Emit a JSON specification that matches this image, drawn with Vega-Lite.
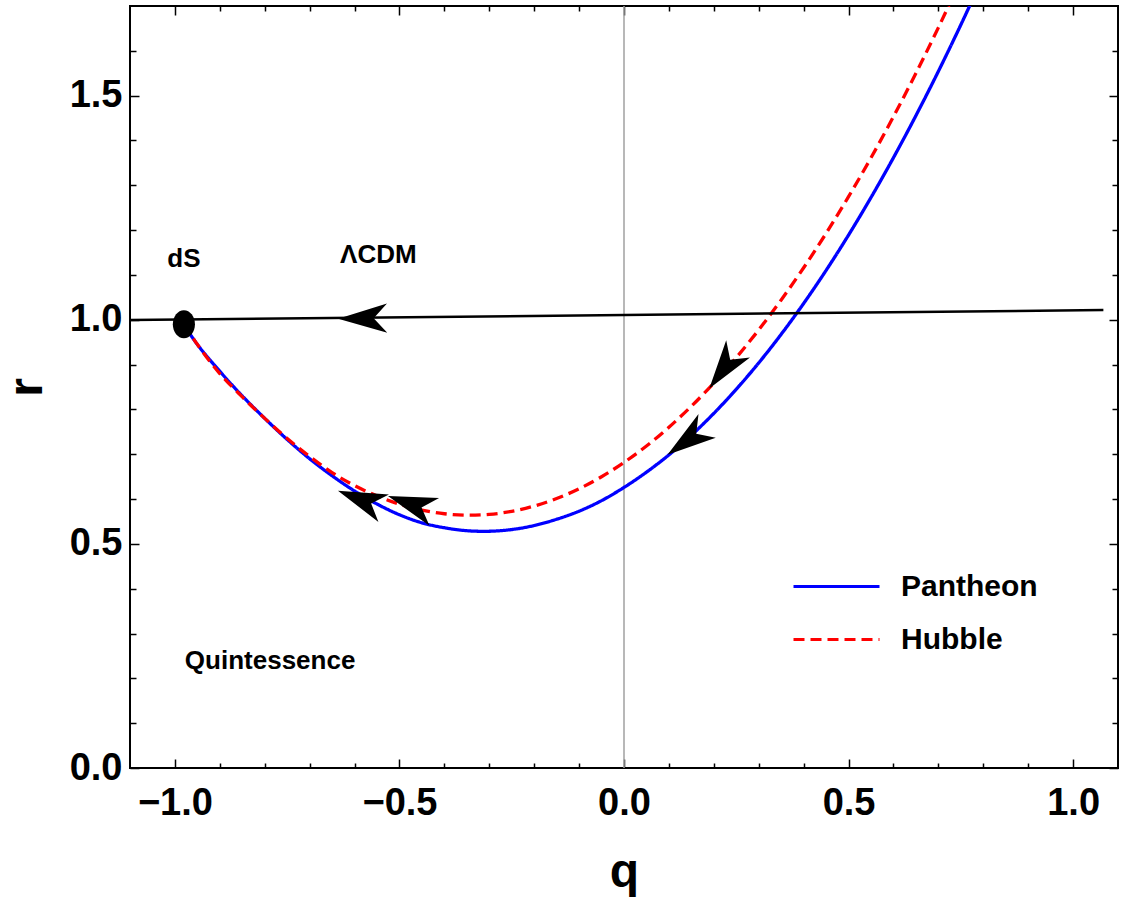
{
  "$schema": "https://vega.github.io/schema/vega-lite/v6.json",
  "width": 988,
  "height": 762,
  "autosize": {"type": "none"},
  "padding": {"left": 130, "top": 6, "right": 5, "bottom": 137},
  "background": "white",
  "config": {
    "view": {"stroke": "black", "strokeWidth": 2},
    "font": "Liberation Sans",
    "axis": {
      "domain": false, "grid": false, "tickColor": "black", "tickWidth": 1.5,
      "labelFont": "Liberation Sans", "labelFontWeight": "bold", "labelFontSize": 38, "labelColor": "black",
      "titleFont": "Liberation Sans", "titleFontWeight": "bold", "titleFontSize": 48, "titleColor": "black",
      "labelFlush": false, "labelOverlap": false
    },
    "legend": {
      "orient": "none", "legendX": 662, "legendY": 564, "symbolType": "stroke", "symbolSize": 7396,
      "symbolStrokeWidth": 3, "labelFont": "Liberation Sans", "labelFontWeight": "bold", "labelFontSize": 30,
      "labelColor": "black", "labelOffset": 20, "rowPadding": 20, "clipHeight": 33, "padding": 0
    }
  },
  "datasets": {
    "curves": [
      {"series": "Pantheon", "q": -0.98, "r": 0.988}, {"series": "Pantheon", "q": -0.95, "r": 0.945},
      {"series": "Pantheon", "q": -0.9, "r": 0.885}, {"series": "Pantheon", "q": -0.85, "r": 0.83},
      {"series": "Pantheon", "q": -0.8, "r": 0.78}, {"series": "Pantheon", "q": -0.75, "r": 0.733},
      {"series": "Pantheon", "q": -0.7, "r": 0.69}, {"series": "Pantheon", "q": -0.65, "r": 0.652},
      {"series": "Pantheon", "q": -0.6, "r": 0.618}, {"series": "Pantheon", "q": -0.55, "r": 0.589},
      {"series": "Pantheon", "q": -0.5, "r": 0.565}, {"series": "Pantheon", "q": -0.45, "r": 0.547},
      {"series": "Pantheon", "q": -0.4, "r": 0.536}, {"series": "Pantheon", "q": -0.35, "r": 0.5294},
      {"series": "Pantheon", "q": -0.313, "r": 0.528}, {"series": "Pantheon", "q": -0.25, "r": 0.532},
      {"series": "Pantheon", "q": -0.2, "r": 0.541}, {"series": "Pantheon", "q": -0.15, "r": 0.555},
      {"series": "Pantheon", "q": -0.1, "r": 0.573}, {"series": "Pantheon", "q": -0.05, "r": 0.5965},
      {"series": "Pantheon", "q": 0.0, "r": 0.626}, {"series": "Pantheon", "q": 0.05, "r": 0.66},
      {"series": "Pantheon", "q": 0.1, "r": 0.6986}, {"series": "Pantheon", "q": 0.15, "r": 0.7424},
      {"series": "Pantheon", "q": 0.2, "r": 0.7912}, {"series": "Pantheon", "q": 0.25, "r": 0.845},
      {"series": "Pantheon", "q": 0.3, "r": 0.9038}, {"series": "Pantheon", "q": 0.35, "r": 0.9676},
      {"series": "Pantheon", "q": 0.4, "r": 1.0364}, {"series": "Pantheon", "q": 0.45, "r": 1.1102},
      {"series": "Pantheon", "q": 0.5, "r": 1.189}, {"series": "Pantheon", "q": 0.55, "r": 1.2728},
      {"series": "Pantheon", "q": 0.6, "r": 1.3616}, {"series": "Pantheon", "q": 0.65, "r": 1.4554},
      {"series": "Pantheon", "q": 0.7, "r": 1.5542}, {"series": "Pantheon", "q": 0.75, "r": 1.658},
      {"series": "Pantheon", "q": 0.78, "r": 1.7226},
      {"series": "Hubble", "q": -0.98, "r": 0.99}, {"series": "Hubble", "q": -0.95, "r": 0.945},
      {"series": "Hubble", "q": -0.9, "r": 0.88}, {"series": "Hubble", "q": -0.85, "r": 0.828},
      {"series": "Hubble", "q": -0.8, "r": 0.78}, {"series": "Hubble", "q": -0.75, "r": 0.735},
      {"series": "Hubble", "q": -0.7, "r": 0.695}, {"series": "Hubble", "q": -0.65, "r": 0.659},
      {"series": "Hubble", "q": -0.6, "r": 0.63}, {"series": "Hubble", "q": -0.55, "r": 0.607},
      {"series": "Hubble", "q": -0.5, "r": 0.5887}, {"series": "Hubble", "q": -0.45, "r": 0.5754},
      {"series": "Hubble", "q": -0.4, "r": 0.5672}, {"series": "Hubble", "q": -0.343, "r": 0.564},
      {"series": "Hubble", "q": -0.3, "r": 0.5658}, {"series": "Hubble", "q": -0.25, "r": 0.5726},
      {"series": "Hubble", "q": -0.2, "r": 0.5844}, {"series": "Hubble", "q": -0.15, "r": 0.6012},
      {"series": "Hubble", "q": -0.1, "r": 0.623}, {"series": "Hubble", "q": -0.05, "r": 0.6498},
      {"series": "Hubble", "q": 0.0, "r": 0.6816}, {"series": "Hubble", "q": 0.05, "r": 0.7184},
      {"series": "Hubble", "q": 0.1, "r": 0.7602}, {"series": "Hubble", "q": 0.15, "r": 0.807},
      {"series": "Hubble", "q": 0.2, "r": 0.8588}, {"series": "Hubble", "q": 0.25, "r": 0.9156},
      {"series": "Hubble", "q": 0.3, "r": 0.9774}, {"series": "Hubble", "q": 0.35, "r": 1.0442},
      {"series": "Hubble", "q": 0.4, "r": 1.116}, {"series": "Hubble", "q": 0.45, "r": 1.1928},
      {"series": "Hubble", "q": 0.5, "r": 1.2746}, {"series": "Hubble", "q": 0.55, "r": 1.3614},
      {"series": "Hubble", "q": 0.6, "r": 1.4532}, {"series": "Hubble", "q": 0.65, "r": 1.55},
      {"series": "Hubble", "q": 0.7, "r": 1.6518}, {"series": "Hubble", "q": 0.75, "r": 1.7586}
    ],
    "lcdm": [{"q": -1.1, "r": 0.9993}, {"q": 1.0675, "r": 1.0217}],
    "arrows": [
      {"q": -0.582, "r": 1.003, "heading": 179.4},
      {"q": -0.586, "r": 0.599, "heading": 201},
      {"q": -0.474, "r": 0.589, "heading": 199},
      {"q": 0.222, "r": 0.891, "heading": 126},
      {"q": 0.141, "r": 0.731, "heading": 144}
    ],
    "ds": [{"q": -0.98, "r": 0.99}],
    "labels": [
      {"q": -0.98, "r": 1.135, "text": "dS"},
      {"q": -0.547, "r": 1.145, "text": "ΛCDM"},
      {"q": -0.788, "r": 0.238, "text": "Quintessence"}
    ],
    "zero": [{"q": 0}]
  },
  "layer": [
    {
      "data": {"name": "zero"},
      "mark": {"type": "rule", "color": "#a0a0a0", "strokeWidth": 1.5},
      "encoding": {
        "x": {"field": "q", "type": "quantitative", "scale": {"domain": [-1.1, 1.1], "nice": false, "zero": false}, "axis": null}
      }
    },
    {
      "data": {"name": "curves"},
      "mark": {"type": "line", "strokeWidth": 3.3, "interpolate": "monotone", "clip": true},
      "encoding": {
        "x": {"field": "q", "type": "quantitative", "scale": {"domain": [-1.1, 1.1], "nice": false, "zero": false},
          "axis": {"orient": "bottom", "values": [-1.0, -0.9, -0.8, -0.7, -0.6, -0.5, -0.4, -0.3, -0.2, -0.1, 0.0, 0.1, 0.2, 0.3, 0.4, 0.5, 0.6, 0.7, 0.8, 0.9, 1.0],
            "labelExpr": "abs(round(datum.value*10)) % 5 == 0 ? format(datum.value, '.1f') : ''",
            "tickSize": {"condition": {"test": "abs(round(datum.value*10)) % 5 == 0", "value": -9}, "value": -5},
            "labelPadding": 25, "title": "q", "titlePadding": 22}},
        "y": {"field": "r", "type": "quantitative", "scale": {"domain": [0, 1.7], "nice": false, "zero": false},
          "axis": {"orient": "left", "values": [0.0, 0.1, 0.2, 0.3, 0.4, 0.5, 0.6, 0.7, 0.8, 0.9, 1.0, 1.1, 1.2, 1.3, 1.4, 1.5, 1.6],
            "labelExpr": "abs(round(datum.value*10)) % 5 == 0 ? format(datum.value, '.1f') : ''",
            "tickSize": {"condition": {"test": "abs(round(datum.value*10)) % 5 == 0", "value": -9}, "value": -6},
            "labelPadding": 17, "title": "r", "titlePadding": 18}},
        "color": {"field": "series", "type": "nominal", "scale": {"domain": ["Pantheon", "Hubble"], "range": ["#0000ff", "#ff0000"]}, "legend": {"title": null}},
        "strokeDash": {"field": "series", "type": "nominal", "scale": {"domain": ["Pantheon", "Hubble"], "range": [[1, 0], [11, 6]]}, "legend": {"title": null}}
      }
    },
    {
      "data": {"name": "lcdm"},
      "mark": {"type": "line", "color": "black", "strokeWidth": 2.5},
      "encoding": {
        "x": {"field": "q", "type": "quantitative", "scale": {"domain": [-1.1, 1.1], "nice": false, "zero": false},
          "axis": {"orient": "top", "values": [-1.0, -0.9, -0.8, -0.7, -0.6, -0.5, -0.4, -0.3, -0.2, -0.1, 0.0, 0.1, 0.2, 0.3, 0.4, 0.5, 0.6, 0.7, 0.8, 0.9, 1.0],
            "labels": false, "title": null,
            "tickSize": {"condition": {"test": "abs(round(datum.value*10)) % 5 == 0", "value": -9}, "value": -5}}},
        "y": {"field": "r", "type": "quantitative", "scale": {"domain": [0, 1.7], "nice": false, "zero": false},
          "axis": {"orient": "right", "values": [0.0, 0.1, 0.2, 0.3, 0.4, 0.5, 0.6, 0.7, 0.8, 0.9, 1.0, 1.1, 1.2, 1.3, 1.4, 1.5, 1.6],
            "labels": false, "title": null,
            "tickSize": {"condition": {"test": "abs(round(datum.value*10)) % 5 == 0", "value": -9}, "value": -6}}}
      }
    },
    {
      "data": {"name": "arrows"},
      "mark": {"type": "point", "shape": "M1,0L-1,-0.6L-0.45,0L-1,0.6Z", "filled": true, "color": "black", "opacity": 1, "size": 2400},
      "encoding": {
        "x": {"field": "q", "type": "quantitative", "scale": {"domain": [-1.1, 1.1], "nice": false, "zero": false}, "axis": null},
        "y": {"field": "r", "type": "quantitative", "scale": {"domain": [0, 1.7], "nice": false, "zero": false}, "axis": null},
        "angle": {"field": "heading", "type": "quantitative", "scale": null}
      }
    },
    {
      "data": {"name": "ds"},
      "mark": {"type": "point", "shape": "M0,-1A0.79,1 0 1,1 0,1A0.79,1 0 1,1 0,-1Z", "filled": true, "color": "black", "opacity": 1, "size": 784},
      "encoding": {
        "x": {"field": "q", "type": "quantitative", "scale": {"domain": [-1.1, 1.1], "nice": false, "zero": false}, "axis": null},
        "y": {"field": "r", "type": "quantitative", "scale": {"domain": [0, 1.7], "nice": false, "zero": false}, "axis": null}
      }
    },
    {
      "data": {"name": "labels"},
      "mark": {"type": "text", "font": "Liberation Sans", "fontWeight": "bold", "fontSize": 26, "color": "black", "align": "center", "baseline": "middle"},
      "encoding": {
        "x": {"field": "q", "type": "quantitative", "scale": {"domain": [-1.1, 1.1], "nice": false, "zero": false}, "axis": null},
        "y": {"field": "r", "type": "quantitative", "scale": {"domain": [0, 1.7], "nice": false, "zero": false}, "axis": null},
        "text": {"field": "text", "type": "nominal"}
      }
    }
  ],
  "resolve": {"axis": {"x": "independent", "y": "independent"}}
}
